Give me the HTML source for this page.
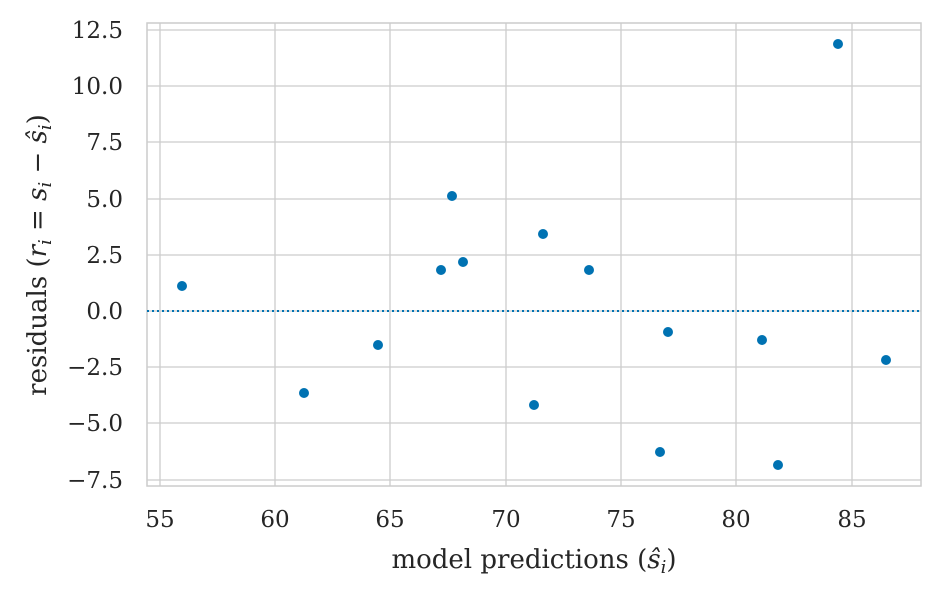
<!DOCTYPE html>
<html><head><meta charset="utf-8"><style>
html,body{margin:0;padding:0;background:#fff;}
svg text{font-family:"DejaVu Serif","Liberation Serif",serif;fill:#262626;}
.t{font-size:23px;}
.l{font-size:26px;}
.s{font-size:18px;}
</style></head><body>
<svg width="941" height="598" xmlns="http://www.w3.org/2000/svg">
<rect width="941" height="598" fill="#fff"/>
<g stroke="#cccccc" stroke-width="1.3">
<line x1="160" y1="23" x2="160" y2="486"/>
<line x1="275" y1="23" x2="275" y2="486"/>
<line x1="390" y1="23" x2="390" y2="486"/>
<line x1="506" y1="23" x2="506" y2="486"/>
<line x1="621" y1="23" x2="621" y2="486"/>
<line x1="736" y1="23" x2="736" y2="486"/>
<line x1="852" y1="23" x2="852" y2="486"/>
<line x1="147" y1="30" x2="921" y2="30"/>
<line x1="147" y1="86" x2="921" y2="86"/>
<line x1="147" y1="142" x2="921" y2="142"/>
<line x1="147" y1="199" x2="921" y2="199"/>
<line x1="147" y1="255" x2="921" y2="255"/>
<line x1="147" y1="311" x2="921" y2="311"/>
<line x1="147" y1="367" x2="921" y2="367"/>
<line x1="147" y1="423" x2="921" y2="423"/>
<line x1="147" y1="480" x2="921" y2="480"/>
</g>
<rect x="147" y="23" width="774" height="463" fill="none" stroke="#cccccc" stroke-width="1.5"/>
<line x1="147" y1="311" x2="921" y2="311" stroke="#0072b2" stroke-width="2" stroke-dasharray="2,3"/>
<g fill="#0072b2">
<circle cx="182" cy="286" r="5"/><circle cx="304" cy="393" r="5"/><circle cx="378" cy="345" r="5"/>
<circle cx="441" cy="270" r="5"/><circle cx="452" cy="196" r="5"/><circle cx="463" cy="262" r="5"/>
<circle cx="534" cy="405" r="5"/><circle cx="543" cy="234" r="5"/><circle cx="589" cy="270" r="5"/>
<circle cx="660" cy="452" r="5"/><circle cx="668" cy="332" r="5"/><circle cx="762" cy="340" r="5"/>
<circle cx="778" cy="465" r="5"/><circle cx="838" cy="44" r="5"/><circle cx="886" cy="360" r="5"/>
</g>
<g text-anchor="middle">
<text class="t" x="160" y="527">55</text><text class="t" x="275" y="527">60</text><text class="t" x="390" y="527">65</text>
<text class="t" x="506" y="527">70</text><text class="t" x="621" y="527">75</text><text class="t" x="736" y="527">80</text><text class="t" x="852" y="527">85</text>
</g>
<g text-anchor="end">
<text class="t" x="123" y="38">12.5</text><text class="t" x="123" y="94">10.0</text><text class="t" x="123" y="150">7.5</text>
<text class="t" x="123" y="207">5.0</text><text class="t" x="123" y="263">2.5</text><text class="t" x="123" y="319">0.0</text>
<text class="t" x="123" y="375">−2.5</text><text class="t" x="123" y="431">−5.0</text><text class="t" x="123" y="488">−7.5</text>
</g>
<text class="l" x="534" y="568" text-anchor="middle">model predictions (<tspan font-style="italic">ŝ<tspan class="s" dy="5">i</tspan></tspan><tspan dy="-5">)</tspan></text>
<text class="l" transform="translate(46,255) rotate(-90)" text-anchor="middle">residuals (<tspan font-style="italic">r<tspan class="s" dy="5">i</tspan></tspan><tspan dy="-5"> = </tspan><tspan font-style="italic">s<tspan class="s" dy="5">i</tspan></tspan><tspan dy="-5"> − </tspan><tspan font-style="italic">ŝ<tspan class="s" dy="5">i</tspan></tspan><tspan dy="-5">)</tspan></text>
</svg>
</body></html>
